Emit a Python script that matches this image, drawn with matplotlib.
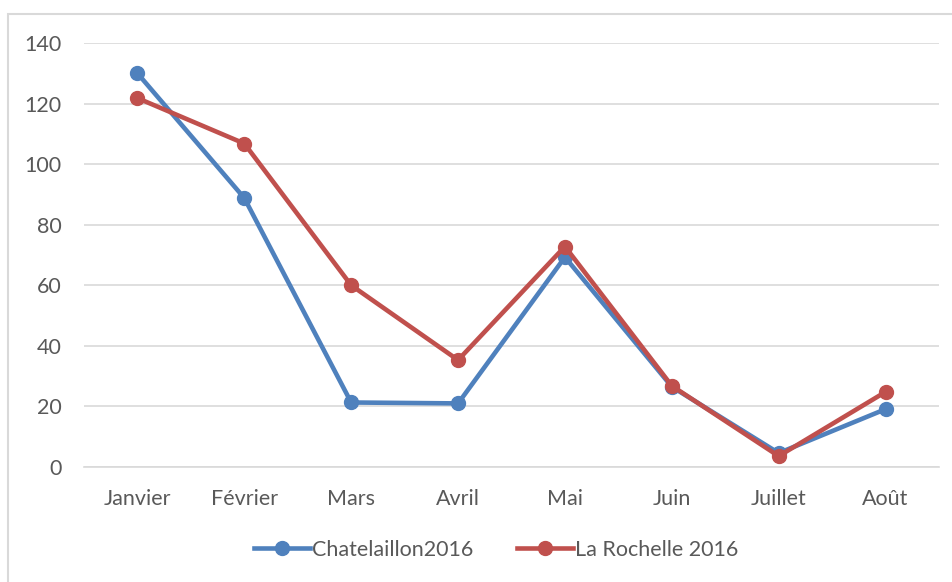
import matplotlib
matplotlib.use("Agg")
import matplotlib.pyplot as plt
from matplotlib.patches import Rectangle

months = ["Janvier", "Février", "Mars", "Avril", "Mai", "Juin", "Juillet", "Août"]
chatelaillon = [130, 88.8, 21.3, 21.0, 69.3, 26.5, 4.6, 19.1]
la_rochelle = [121.8, 106.8, 60.0, 35.3, 72.8, 26.8, 3.6, 24.8]
series_names = ["Chatelaillon2016", "La Rochelle 2016"]
yticks = [0, 20, 40, 60, 80, 100, 120, 140]

plt.rcParams['font.family'] = ['Lato', 'DejaVu Sans']
text_color = '#595959'

fig = plt.figure(figsize=(9.53, 5.82), dpi=100)
ax = fig.add_axes([84/953, 1 - 467/582, (939 - 84)/953, (467 - 43)/582])

x = list(range(len(months)))
ax.plot(x, chatelaillon, color='#4F81BD', lw=3.3, marker='o', ms=10,
        label=series_names[0], solid_joinstyle='round', zorder=3)
ax.plot(x, la_rochelle, color='#C0504D', lw=3.3, marker='o', ms=10,
        label=series_names[1], solid_joinstyle='round', zorder=4)

ax.set_xlim(-0.5, len(months) - 0.5)
ax.set_ylim(0, 140)
ax.set_yticks(yticks)
ax.set_xticks(x)
ax.set_xticklabels(months)
ax.grid(axis='y', color='#D9D9D9', lw=1.2)
ax.set_axisbelow(True)
for s in ['top', 'right', 'left']:
    ax.spines[s].set_visible(False)
ax.spines['bottom'].set_color('#D9D9D9')
ax.spines['bottom'].set_linewidth(1.2)
ax.tick_params(axis='both', length=0, colors=text_color, labelsize=15.5)
ax.tick_params(axis='x', pad=16)
ax.tick_params(axis='y', pad=16)

leg = fig.legend(loc='center', bbox_to_anchor=(496/953, 1 - 550/582), ncol=2,
                 frameon=False, fontsize=15.5, handlelength=2.6, handletextpad=0.1,
                 columnspacing=2.0, labelcolor=text_color)

fig.patches.append(Rectangle((8/953, -0.01), 1.0, 1 - 14/582 + 0.01,
                             transform=fig.transFigure, fill=False,
                             edgecolor='#D9D9D9', lw=1.5))

fig.savefig("out.png", dpi=100)
